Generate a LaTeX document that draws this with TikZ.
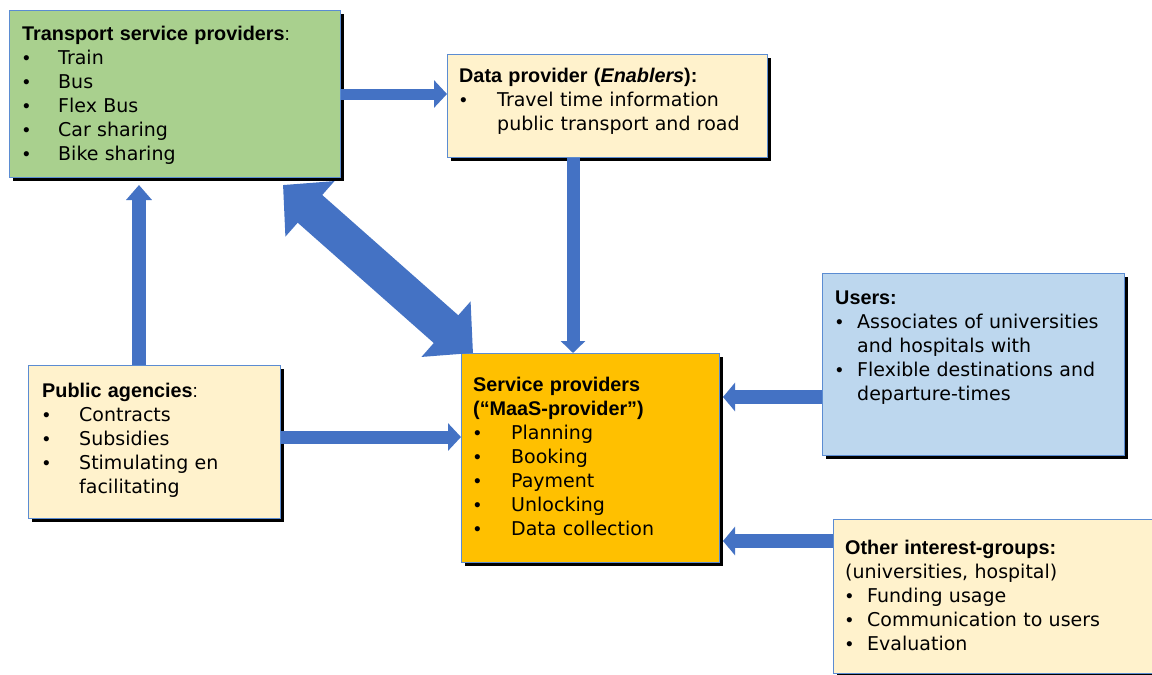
\documentclass[tikz,border=0pt]{standalone}
\usepackage{fontspec}
\setmainfont{DejaVu Sans}
\newfontfamily\hfont{Liberation Sans}
\usetikzlibrary{arrows.meta,shadows}
\definecolor{tspgreen}{RGB}{169,208,142}
\definecolor{cream}{RGB}{255,242,204}
\definecolor{userblue}{RGB}{189,215,238}
\definecolor{maasorange}{RGB}{255,192,0}
\definecolor{arrowblue}{RGB}{68,114,196}
\definecolor{edgeblue}{RGB}{91,140,210}
\newcommand{\hd}[1]{{\hfont\bfseries\fontsize{19.8}{24}\selectfont #1}}
\newcommand{\bitem}[2][36pt]{\makebox[#1][l]{\hspace{1pt}{\hfont •}}#2}
\tikzset{
  box/.style={draw=edgeblue, line width=1pt, inner sep=0pt, anchor=north west,
    drop shadow={shadow xshift=3pt,shadow yshift=-3pt,fill=black,opacity=1}},
  txt/.style={anchor=base west, inner sep=0pt, text width=320pt, align=left,
    font=\fontsize{19}{24}\selectfont},
  arr/.style={draw=arrowblue, line width=13pt, -{Triangle[length=13pt,width=27pt]}},
  bigarr/.style={draw=arrowblue, line width=37pt,
    {Triangle[length=36pt,width=72pt]}-{Triangle[length=36pt,width=72pt]}}
}
\begin{document}
\begin{tikzpicture}[x=1pt,y=-1pt]
\fill[white] (0,0) rectangle (1152,675);
\useasboundingbox (0,0) rectangle (1152,675);

% boxes
\node[box, fill=tspgreen, minimum width=331pt, minimum height=167pt] (tsp) at (9,10) {};
\node[box, fill=cream, minimum width=320pt, minimum height=103pt] (data) at (447,54) {};
\node[box, fill=cream, minimum width=252pt, minimum height=153pt] (pub) at (28,365) {};
\node[box, fill=maasorange, minimum width=258pt, minimum height=209pt] (maas) at (461,353) {};
\node[box, fill=userblue, minimum width=302pt, minimum height=182pt] (users) at (822,273) {};
\node[box, fill=cream, minimum width=330pt, minimum height=154pt] (other) at (833,519) {};

% texts
\node[txt] (tspT) at (22,40) {\hd{Transport service providers}{\hfont :}\\
\bitem{Train}\\ \bitem{Bus}\\ \bitem{Flex Bus}\\ \bitem{Car sharing}\\ \bitem{Bike sharing}};
\node[txt] (dataT) at (459,82) {\hd{Data provider (\textit{Enablers}):}\\
\bitem[38pt]{Travel time information}\\ \hspace*{38pt}public transport and road};
\node[txt] (pubT) at (42,397) {\hd{Public agencies}{\hfont :}\\
\bitem[37pt]{Contracts}\\ \bitem[37pt]{Subsidies}\\ \bitem[37pt]{Stimulating en}\\ \hspace*{37pt}facilitating};
\node[txt] (maasT) at (473,391) {\hd{Service providers}\\ \hd{(“MaaS-provider”)}\\
\bitem[38pt]{Planning}\\ \bitem[38pt]{Booking}\\ \bitem[38pt]{Payment}\\ \bitem[38pt]{Unlocking}\\ \bitem[38pt]{Data collection}};
\node[txt] (usersT) at (835,304) {\hd{Users:}\\
\bitem[22pt]{Associates of universities}\\ \hspace*{22pt}and hospitals with\\
\bitem[22pt]{Flexible destinations and}\\ \hspace*{22pt}departure-times};
\node[txt] (otherT) at (845,554) {\hd{Other interest-groups:}\\ (universities, hospital)\\
\bitem[22pt]{Funding usage}\\ \bitem[22pt]{Communication to users}\\ \bitem[22pt]{Evaluation}};

% helper coordinates
\coordinate (dmx) at (573,0);
\coordinate (ptx) at (139,0);
\coordinate (pmy) at (0,437);
\coordinate (umy) at (0,397);
\coordinate (omy) at (0,541);
\coordinate (d1) at (283,185);
\coordinate (d2) at (473,353);

% arrows
\draw[arr, line width=11pt] (tsp.east) -- (tsp.east -| data.west);
\draw[arr, -{Triangle[length=12pt,width=24pt]}] (data.south -| dmx) -- (maas.north -| dmx);
\draw[arr, line width=14pt, -{Triangle[length=15pt,width=25pt]}] (pub.north -| ptx) -- ([yshift=-7pt]tsp.south -| ptx);
\draw[arr] (pub.east |- pmy) -- (maas.west |- pmy);
\draw[arr, line width=14pt, -{Triangle[length=12pt,width=28pt]}] (users.west |- umy) -- ([xshift=3pt]maas.east |- umy);
\draw[arr, line width=14pt, -{Triangle[length=12pt,width=28pt]}] (other.west |- omy) -- ([xshift=3pt]maas.east |- omy);
\draw[bigarr] (d1) -- (d2);
\end{tikzpicture}
\end{document}
